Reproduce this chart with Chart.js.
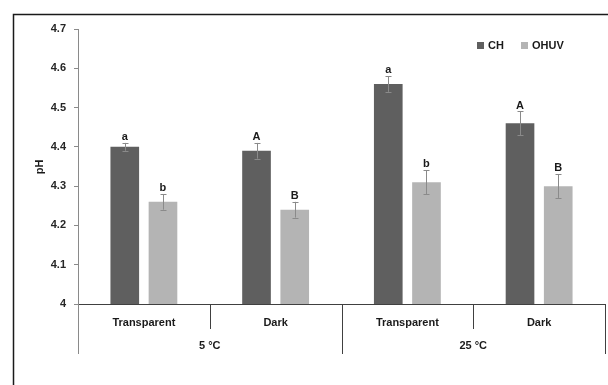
<!DOCTYPE html>
<html>
<head>
<meta charset="utf-8">
<script src="https://cdn.jsdelivr.net/npm/chart.js@4"></script>
<style>
  html, body { margin: 0; padding: 0; background: #fff; }
</style>
</head>
<body>
<canvas id="chart" width="608" height="385"></canvas>
<script>
var categories = ['Transparent', 'Dark', 'Transparent', 'Dark'];
var groups = ['5 °C', '25 °C'];
var chValues = [4.40, 4.39, 4.56, 4.46];
var chErrors = [0.01, 0.02, 0.02, 0.03];
var chLetters = ['a', 'A', 'a', 'A'];
var ohuvValues = [4.26, 4.24, 4.31, 4.30];
var ohuvErrors = [0.02, 0.02, 0.03, 0.03];
var ohuvLetters = ['b', 'B', 'b', 'B'];
var yTicks = [4, 4.1, 4.2, 4.3, 4.4, 4.5, 4.6, 4.7];

var FONT = 'Liberation Sans';
Chart.defaults.font.family = FONT;
Chart.defaults.font.weight = 'bold';
Chart.defaults.color = '#262626';

var errorBars = {
    errors: [chErrors, ohuvErrors],
    letters: [chLetters, ohuvLetters]
};

var extrasPlugin = {
    id: 'extras',
    afterDatasetsDraw: function (chart) {
        var ctx = chart.ctx;
        var y = chart.scales.y;
        ctx.save();
        chart.data.datasets.forEach(function (ds, di) {
            var meta = chart.getDatasetMeta(di);
            meta.data.forEach(function (bar, i) {
                var v = ds.data[i];
                var e = errorBars.errors[di][i];
                var top = y.getPixelForValue(v + e);
                var bot = y.getPixelForValue(v - e);
                var x = Math.round(bar.x) + 0.5;
                ctx.strokeStyle = '#8a8a8a';
                ctx.lineWidth = 1;
                ctx.beginPath();
                ctx.moveTo(x, top);
                ctx.lineTo(x, bot);
                ctx.moveTo(x - 3, Math.round(top) + 0.5);
                ctx.lineTo(x + 3, Math.round(top) + 0.5);
                ctx.moveTo(x - 3, Math.round(bot) + 0.5);
                ctx.lineTo(x + 3, Math.round(bot) + 0.5);
                ctx.stroke();
                ctx.fillStyle = '#1a1a1a';
                ctx.font = 'bold 11px ' + FONT;
                ctx.textAlign = 'center';
                ctx.textBaseline = 'alphabetic';
                ctx.fillText(errorBars.letters[di][i], bar.x, top - 3);
            });
        });
        ctx.restore();
    },
    afterDraw: function (chart) {
        var ctx = chart.ctx;
        var a = chart.chartArea;
        var n = categories.length;
        var w = (a.right - a.left) / n;
        ctx.save();
        // outer frame
        ctx.strokeStyle = '#1a1a1a';
        ctx.lineWidth = 1.5;
        ctx.beginPath();
        ctx.moveTo(13.5, 385);
        ctx.lineTo(13.5, 14.5);
        ctx.lineTo(608, 14.5);
        ctx.stroke();
        // y axis extension
        ctx.lineWidth = 1;
        ctx.strokeStyle = '#8a8a8a';
        ctx.beginPath();
        ctx.moveTo(a.left + 0.5, a.bottom);
        ctx.lineTo(a.left + 0.5, 354);
        ctx.stroke();
        // category separators
        ctx.strokeStyle = '#404040';
        ctx.beginPath();
        for (var i = 1; i <= n; i++) {
            var x = Math.round(a.left + i * w) + 0.5;
            var len = (i % 2 === 0) ? 354 : 329;
            ctx.moveTo(x, a.bottom);
            ctx.lineTo(x, len);
        }
        ctx.stroke();
        // group labels
        ctx.fillStyle = '#1a1a1a';
        ctx.font = 'bold 11px ' + FONT;
        ctx.textAlign = 'center';
        ctx.textBaseline = 'middle';
        groups.forEach(function (g, gi) {
            ctx.fillText(g, a.left + (gi * 2 + 1) * w, 346);
        });
        // legend
        var items = [['CH', '#5f5f5f', 477], ['OHUV', '#b4b4b4', 521]];
        items.forEach(function (it) {
            ctx.fillStyle = it[1];
            ctx.fillRect(it[2], 42, 7, 7);
            ctx.fillStyle = '#1a1a1a';
            ctx.textAlign = 'left';
            ctx.fillText(it[0], it[2] + 11, 46);
        });
        // y title
        ctx.translate(40, 167);
        ctx.rotate(-Math.PI / 2);
        ctx.textAlign = 'center';
        ctx.fillText('pH', 0, 0);
        ctx.restore();
    }
};

new Chart(document.getElementById('chart'), {
    type: 'bar',
    data: {
        labels: categories,
        datasets: [{
            label: 'CH',
            data: chValues,
            backgroundColor: '#5f5f5f',
            borderWidth: 0
        }, {
            label: 'OHUV',
            data: ohuvValues,
            backgroundColor: '#b4b4b4',
            borderWidth: 0
        }]
    },
    options: {
        responsive: false,
        animation: false,
        events: [],
        categoryPercentage: 0.58,
        barPercentage: 0.75,
        layout: { padding: { left: 0, top: 29, right: 3, bottom: 0 } },
        plugins: {
            legend: { display: false },
            tooltip: { enabled: false }
        },
        scales: {
            x: {
                grid: { display: false },
                border: { display: true, color: '#404040', width: 1 },
                ticks: { padding: 4, font: { size: 11, weight: 'bold' }, color: '#1a1a1a' },
                afterFit: function (s) { s.height = 81; }
            },
            y: {
                min: 4,
                max: 4.7,
                afterBuildTicks: function (s) {
                    s.ticks = yTicks.map(function (v) { return { value: v }; });
                },
                grid: { drawOnChartArea: false, color: '#8a8a8a', tickLength: 4 },
                border: { color: '#8a8a8a', width: 1 },
                ticks: {
                    padding: 8,
                    font: { size: 11, weight: 'bold' },
                    color: '#262626',
                    callback: function (v) { return String(+v.toFixed(1)); }
                },
                afterFit: function (s) { s.width = 78; }
            }
        }
    },
    plugins: [extrasPlugin]
});
</script>
</body>
</html>
